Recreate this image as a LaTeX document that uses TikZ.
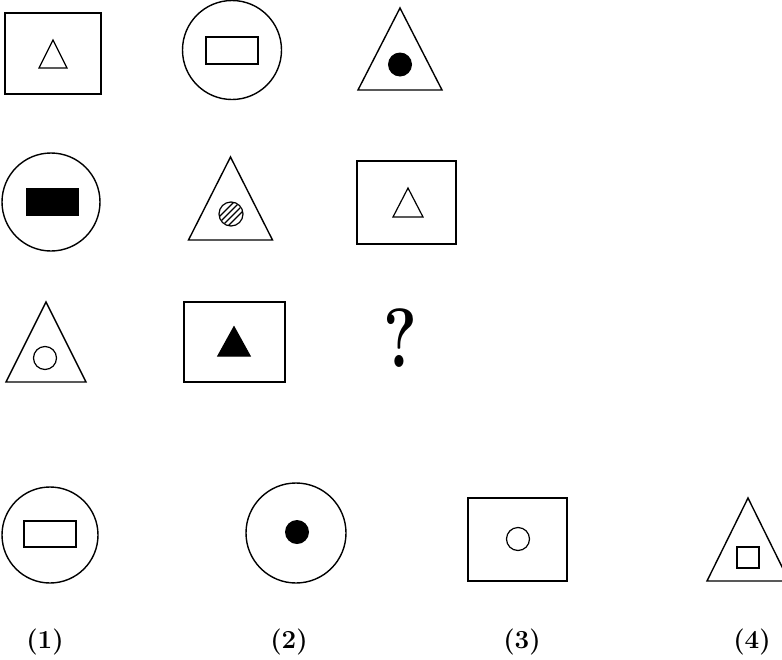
\documentclass[tikz,border=0pt]{standalone}
\usetikzlibrary{positioning}
\newcommand{\trishape}[5][]{\draw[#1] (#2,#3) -- (#2-#5,#4) -- (#2+#5,#4) -- cycle;}
\begin{document}
\begin{tikzpicture}[
  x=1pt, y=-1pt,
  line width=1.4pt, line join=miter,
  frame/.style={draw, rectangle, inner sep=0pt, line width=1.4pt},
  ring/.style={draw, circle, inner sep=0pt, line width=1.4pt},
  box/.style={draw, rectangle, inner sep=0pt, line width=1.2pt},
  blob/.style={fill, circle, inner sep=0pt, minimum size=24pt},
  hollow/.style={draw, circle, inner sep=0pt, line width=1.2pt, minimum size=23pt},
  optlabel/.style={font=\fontsize{26}{30}\selectfont\bfseries}
]
\useasboundingbox (0,0) rectangle (782,659);
\clip (0,0) rectangle (782,659);

% row 1
\node[frame, minimum width=96pt, minimum height=81pt] (sqA) at (53,53.5) {};
\trishape[line width=1.2pt]{53}{40}{68}{14}
\node[ring, minimum size=99pt] (ciA) at (232,50) {};
\node[box, minimum width=52pt, minimum height=27pt] (rcA) at (232,50.5) {};
\trishape{400}{8}{90}{42}
\node[blob] (dtA) at (400,64.5) {};

% row 2
\node[ring, minimum size=98pt] (ciB) at (51,202) {};
\node[fill, rectangle, inner sep=0pt, minimum width=53pt, minimum height=28pt] (rcB) at (52.5,202) {};
\trishape{230.5}{157}{240}{42}
\node[hollow, minimum size=24pt] (htB) at (231,214) {};
\begin{scope}[shift={(231,214)}, line width=1.1pt]
  \clip (0,0) circle (11.5);
  \foreach \s in {-9,-3,3,9}
    \draw (\s-16,16) -- (\s+16,-16);
\end{scope}
\node[frame, minimum width=99pt, minimum height=83pt] (sqB) at (406.5,202.5) {};
\trishape[line width=1.2pt]{408}{188}{217}{15}

% row 3
\trishape{46}{302}{382}{40}
\node[hollow] (ciC) at (45,358) {};
\node[frame, minimum width=101pt, minimum height=80pt] (sqC) at (234.5,342) {};
\trishape[fill]{234}{327}{356}{16}
\node[font=\fontsize{84}{88}\selectfont\bfseries] (qmark) at (400,338) {\scalebox{0.76}[1]{?}};

% answer figures
\node[ring, minimum size=96pt] (opt1) at (50,535) {};
\node[box, minimum width=52pt, minimum height=26pt] (in1) at (50,534) {};
\node[ring, minimum size=100pt] (opt2) at (296,533) {};
\node[blob] (in2) at (297,532) {};
\node[frame, minimum width=99pt, minimum height=83pt] (opt3) at (517.5,539.5) {};
\node[hollow] (in3) at (518,539) {};
\trishape{748}{498}{581}{41}
\node[box, minimum width=22pt, minimum height=21pt] (in4) at (748,557.5) {};

% option numbers
\node[optlabel] (num1) at (45,642) {(1)};
\node[optlabel] (num2) at (289,642) {(2)};
\node[optlabel] (num3) at (522,642) {(3)};
\node[optlabel] (num4) at (752,642) {(4)};
\end{tikzpicture}
\end{document}
